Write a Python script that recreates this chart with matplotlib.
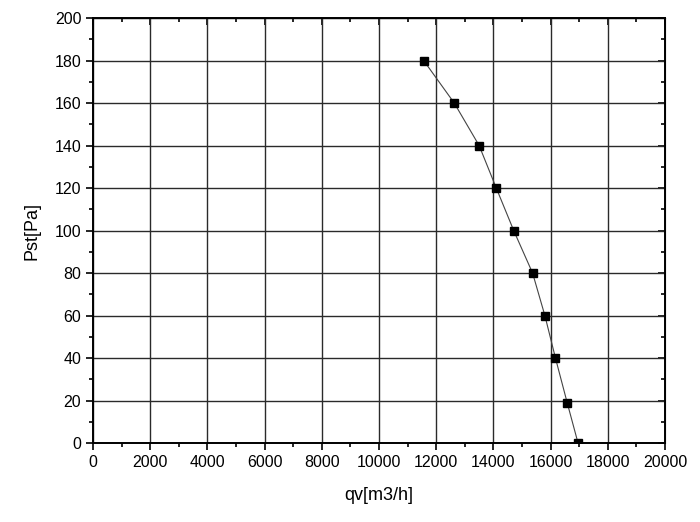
import numpy as np
import matplotlib.pyplot as plt
from matplotlib.ticker import MultipleLocator

plt.rcParams['font.family'] = ['Liberation Sans', 'DejaVu Sans']

# flow rate vs static pressure
qv = [11560, 12630, 13500, 14100, 14710, 15370, 15800, 16170, 16580, 16960]
pst = [180, 160, 140, 120, 100, 80, 60, 40, 19, 0]

fig = plt.figure(figsize=(7, 5.22), dpi=100)
ax = fig.add_axes([0.133, 0.151, 0.817, 0.8145])

ax.plot(qv, pst, color='#444444', linewidth=0.8, marker='s', markersize=6,
        markerfacecolor='black', markeredgecolor='black', zorder=3)

ax.set_xlim(0, 20000)
ax.set_ylim(0, 200)
ax.xaxis.set_major_locator(MultipleLocator(2000))
ax.xaxis.set_minor_locator(MultipleLocator(1000))
ax.yaxis.set_major_locator(MultipleLocator(20))
ax.yaxis.set_minor_locator(MultipleLocator(10))

ax.grid(True, which='major', color='#2a2a2a', linewidth=1.0)
ax.set_axisbelow(True)

for s in ax.spines.values():
    s.set_linewidth(1.4)

ax.tick_params(which='both', direction='out', top=False, right=False,
               width=1.2, labelsize=11.5, colors='black')
ax.tick_params(which='major', length=5)
ax.tick_params(which='minor', length=3)

# inward ticks on top and right spines
ax2 = ax.secondary_xaxis('top')
ax2.xaxis.set_major_locator(MultipleLocator(2000))
ax2.xaxis.set_minor_locator(MultipleLocator(1000))
ax2.tick_params(which='both', direction='in', labeltop=False, width=1.2)
ax2.tick_params(which='major', length=5)
ax2.tick_params(which='minor', length=3)
ax3 = ax.secondary_yaxis('right')
ax3.yaxis.set_major_locator(MultipleLocator(20))
ax3.yaxis.set_minor_locator(MultipleLocator(10))
ax3.tick_params(which='both', direction='in', labelright=False, width=1.2)
ax3.tick_params(which='major', length=5)
ax3.tick_params(which='minor', length=3)

ax.set_xlabel('qv[m3/h]', fontsize=13, labelpad=12)
ax.set_ylabel('Pst[Pa]', fontsize=13, labelpad=10)

fig.savefig('out.png', dpi=100)
